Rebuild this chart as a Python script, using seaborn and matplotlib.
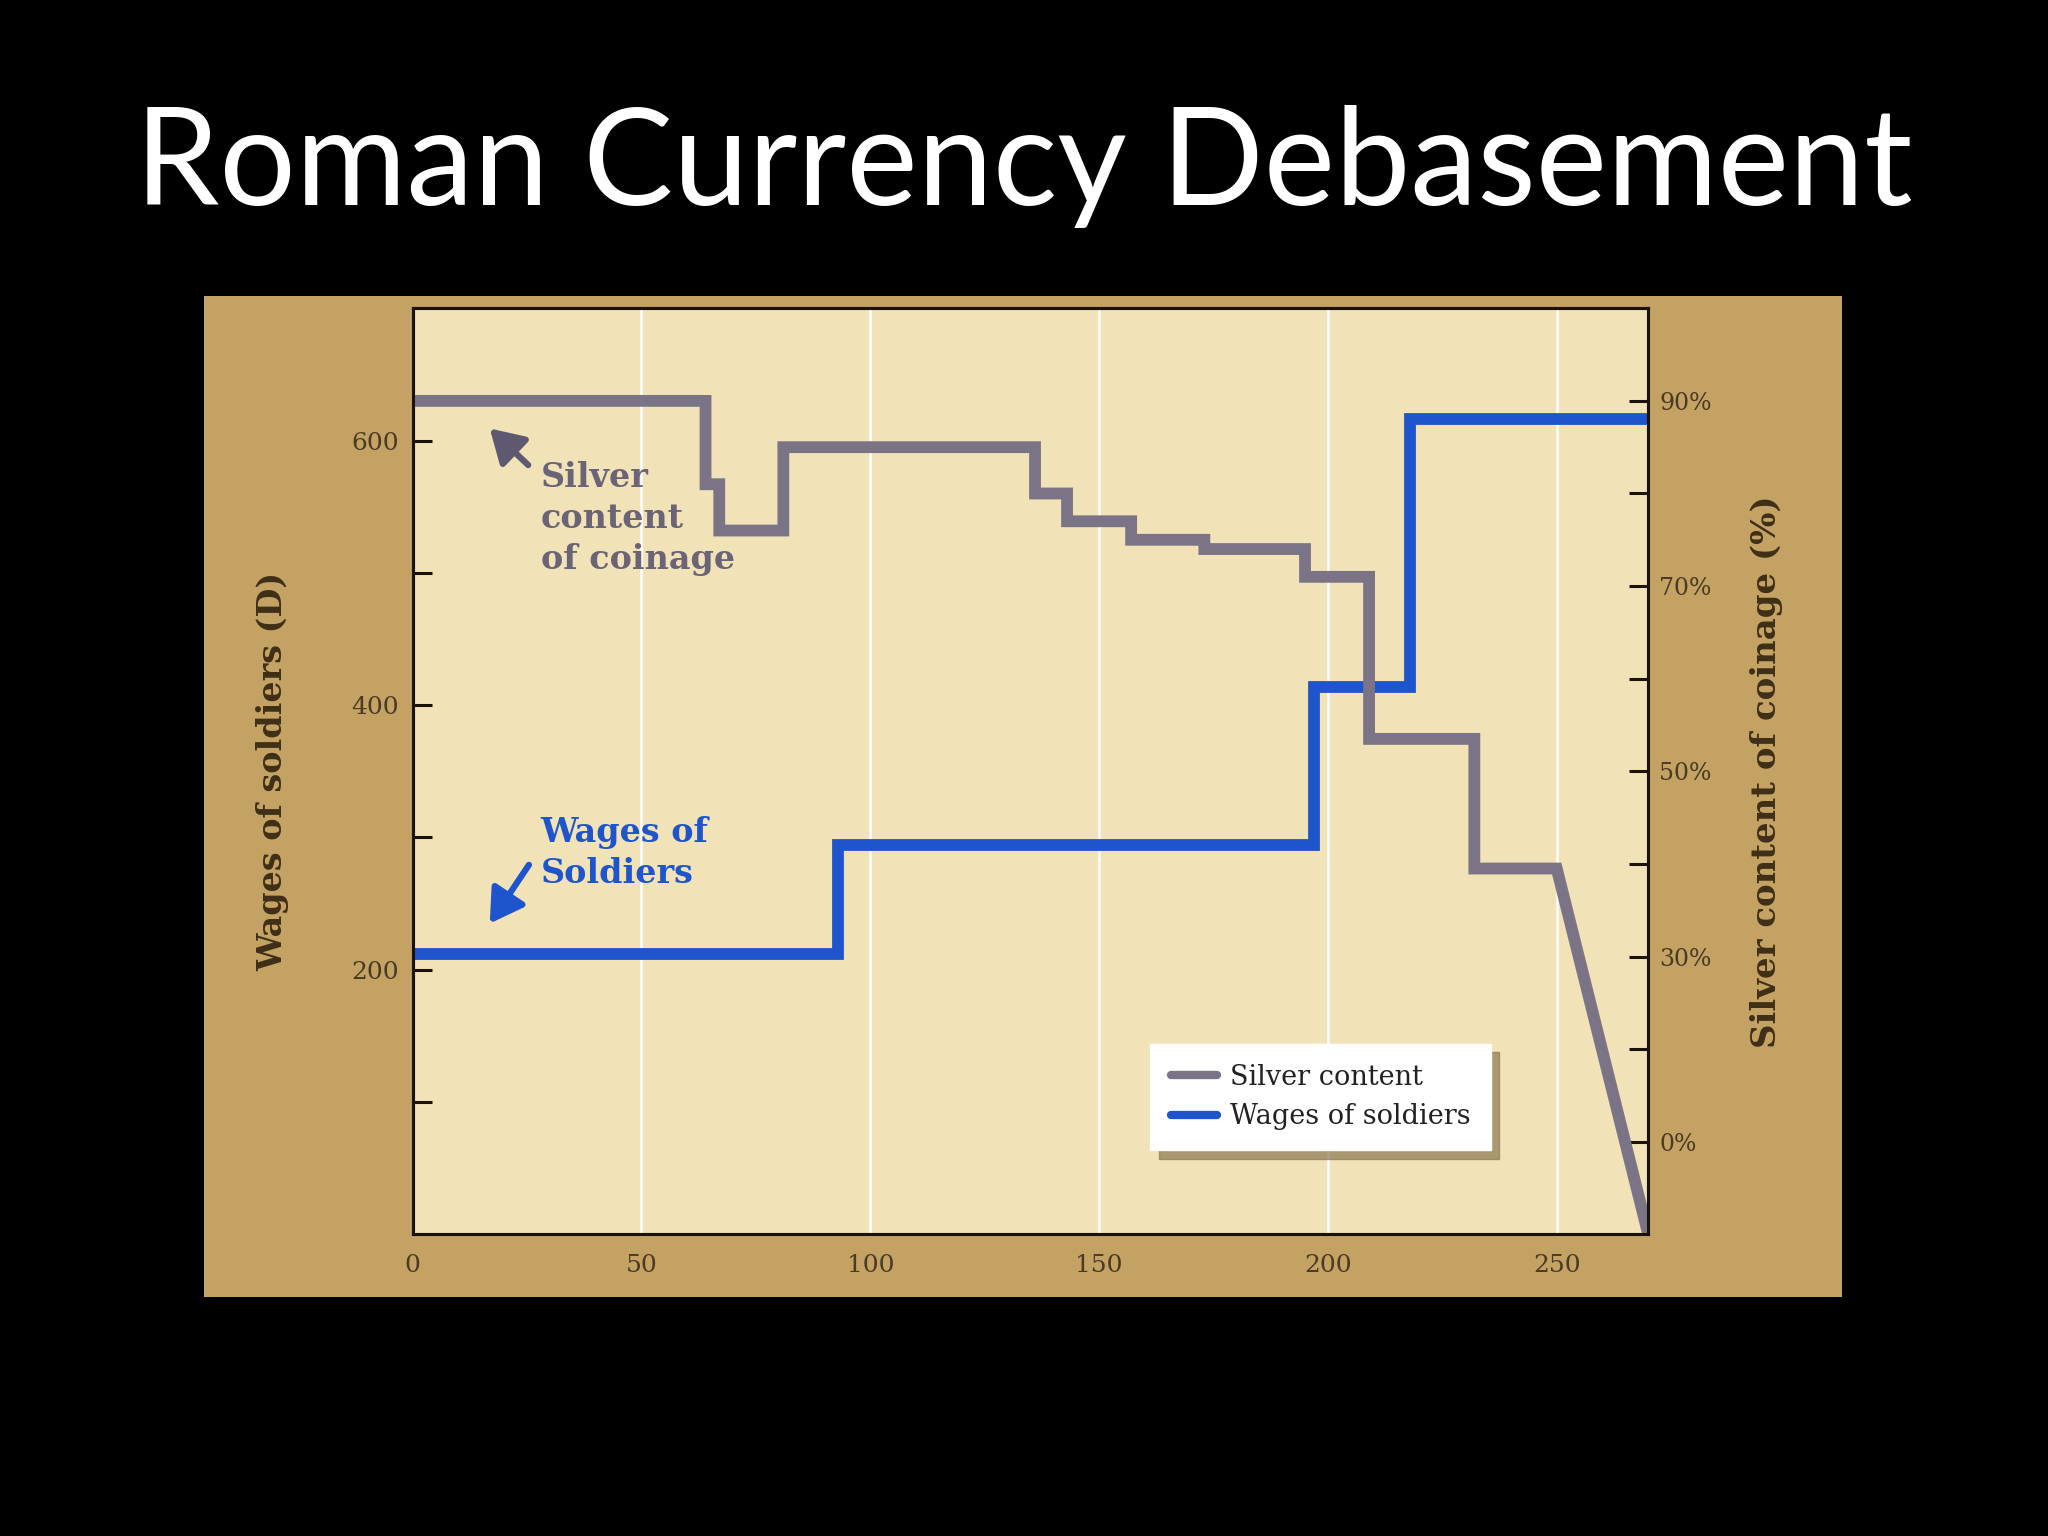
import numpy as np
import pandas as pd
import matplotlib
matplotlib.use("Agg")
import matplotlib.pyplot as plt
import seaborn as sns
from matplotlib.patches import Rectangle

# dados
wage_years = [0, 93, 197, 218, 270]
wage_denarii = [212, 294, 414, 616, 616]

# degraus do teor de prata; o ultimo trecho (250 -> 270) e uma queda linear
silver_years = [0, 64, 67, 81, 136, 143, 157, 173, 195, 209, 232, 250, 270]
silver_pct = [90, 81, 76, 85, 80, 77, 75, 74, 71, 53.5, 39.5, 39.5, 0]

x_ticks = [0, 50, 100, 150, 200, 250]
left_ticks = [100, 200, 300, 400, 500, 600]
left_labels = ["", "200", "", "400", "", "600"]
right_ticks = [10, 20, 30, 40, 50, 60, 70, 80, 90]
right_labels = ["0%", "", "30%", "", "50%", "", "70%", "", "90%"]

BLUE = "#1f55cc"
SILVER = "#7b7487"
BROWN = "#4a3b22"


def steps_then_linear(xs, ys):
    # degraus ate o penultimo ponto, depois liga linear ao ultimo
    px, py = [], []
    for i in range(len(xs) - 2):
        px += [xs[i], xs[i + 1]]
        py += [ys[i], ys[i]]
    px.append(xs[-1])
    py.append(ys[-1])
    return pd.DataFrame({"ano": px, "prata": py})


silver_df = steps_then_linear(silver_years, silver_pct)
wage_df = pd.DataFrame({"ano": wage_years, "salario": wage_denarii})

sns.set_style("white")
plt.rcParams["font.family"] = ["DejaVu Serif"]

fig = plt.figure(figsize=(20.48, 15.36), dpi=100, facecolor="black")
fig.patches.append(Rectangle((0.0995, 0.1556), 0.7997, 0.6514, transform=fig.transFigure,
                             facecolor="#c4a264", edgecolor="none", zorder=-5))

ax = fig.add_axes([0.2015, 0.1964, 0.6033, 0.6029])
ax.set_facecolor("#f1e2b7")

sns.lineplot(data=wage_df, x="ano", y="salario", ax=ax, color=BLUE, lw=8.5,
             drawstyle="steps-post", estimator=None, sort=False, legend=False)
wage_line = ax.lines[-1]

ax2 = ax.twinx()
sns.lineplot(data=silver_df, x="ano", y="prata", ax=ax2, color=SILVER, lw=8.5,
             estimator=None, sort=False, legend=False)
silver_line = ax2.lines[-1]
silver_line.set_solid_joinstyle("miter")
wage_line.set_solid_joinstyle("miter")

ax.set_xlim(0, 270)
ax.set_ylim(0, 700)
ax2.set_ylim(0, 100)

ax.set_xticks(x_ticks)
ax.set_yticks(left_ticks)
ax.set_yticklabels(left_labels)
ax2.set_yticks(right_ticks)
ax2.set_yticklabels(right_labels)

ax.grid(axis="x", color="white", lw=1.8)
ax.grid(axis="y", visible=False)
ax.set_axisbelow(True)

for a in (ax, ax2):
    for s in a.spines.values():
        s.set_visible(True)
        s.set_color("#1a1208")
        s.set_linewidth(2.2)
ax.tick_params(axis="both", direction="in", length=14, width=2.2, color="#1a1208",
               labelsize=18, labelcolor=BROWN, pad=10)
ax.tick_params(axis="x", pad=14)
ax2.tick_params(axis="y", direction="in", length=14, width=2.2, color="#1a1208",
                labelsize=17, labelcolor=BROWN, pad=8)

ax.set_xlabel("")
ax.set_ylabel("Wages of soldiers (D)", fontsize=24, fontweight="bold", color="#3e2f17")
ax.yaxis.set_label_coords(-0.10, 0.5)
ax2.set_ylabel("Silver content of coinage (%)", fontsize=24.5, fontweight="bold", color="#3e2f17")
ax2.yaxis.set_label_coords(1.082, 0.5)

# anotacoes
ax.text(0.1036, 0.835, "Silver\ncontent\nof coinage", transform=ax.transAxes, ha="left", va="top",
        fontsize=24, fontweight="bold", color="#6a6476", linespacing=1.3)
ax.annotate("", xy=(0.0624, 0.8702), xytext=(0.0935, 0.8307), xycoords="axes fraction",
            arrowprops=dict(arrowstyle="-|>,head_length=0.5,head_width=0.3", lw=4.5,
                            color="#5e5870", mutation_scale=40, shrinkA=0, shrinkB=0))
ax.text(0.1036, 0.452, "Wages of\nSoldiers", transform=ax.transAxes, ha="left", va="top",
        fontsize=24, fontweight="bold", color=BLUE, linespacing=1.3)
ax.annotate("", xy=(0.0624, 0.3357), xytext=(0.0941, 0.399), xycoords="axes fraction",
            arrowprops=dict(arrowstyle="-|>,head_length=0.5,head_width=0.3", lw=4.5,
                            color=BLUE, mutation_scale=40, shrinkA=0, shrinkB=0))

leg = ax2.legend(handles=[silver_line, wage_line], labels=["Silver content", "Wages of soldiers"],
                 loc="lower left", bbox_to_anchor=(0.586, 0.076), frameon=True, fancybox=False,
                 shadow=dict(ox=6, oy=-6, color="#8c7a52", alpha=0.7), framealpha=1,
                 edgecolor="white", fontsize=19.5, handlelength=1.7, labelspacing=0.45,
                 borderpad=0.75, handletextpad=0.5)
for t in leg.get_texts():
    t.set_color("#222222")
for h in leg.get_lines():
    h.set_linewidth(6)

fig.text(0.5, 0.8665, "Roman Currency Debasement", ha="center", va="baseline",
         color="white", fontsize=97, family="Lato")

plt.savefig("out.png", dpi=100, facecolor=fig.get_facecolor())
